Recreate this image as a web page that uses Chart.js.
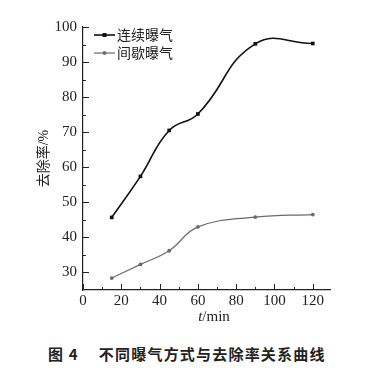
<!DOCTYPE html>
<html>
<head>
<meta charset="utf-8">
<script src="https://cdn.jsdelivr.net/npm/chart.js@4.4.1/dist/chart.umd.min.js"></script>
<style>
  body { margin: 0; background: #fff; }
  #wrap { position: relative; width: 379px; height: 377px; }
  #box { position: absolute; left: 0; top: 0; width: 379px; height: 330px; }
  #caption {
    position: absolute; left: 48px; top: 343px;
    font-family: "Noto Sans CJK SC", sans-serif; font-weight: bold; font-size: 15px;
    color: #222; white-space: nowrap; letter-spacing: 1.2px;
  }
</style>
</head>
<body>
<div id="wrap">
  <div id="box"><canvas id="grafico"></canvas></div>
  <div id="caption">图 4<span style="display:inline-block;width:20px"></span>不同曝气方式与去除率关系曲线</div>
</div>
<script>
// datos
const tiempos = [15, 30, 45, 60, 90, 120];
const continuo = [45.7, 57.4, 70.5, 75.2, 95.2, 95.3];
const intermitente = [28.4, 32.3, 36.2, 43.0, 45.8, 46.5];
const nombres = ["连续曝气", "间歇曝气"];
const xTicks = [0, 20, 40, 60, 80, 100, 120];
const xMinor = [10, 30, 50, 70, 90, 110];
const yTicks = [30, 40, 50, 60, 70, 80, 90, 100];
const yMinor = [35, 45, 55, 65, 75, 85, 95];

const fuenteNum = '"Liberation Serif", "Noto Sans CJK SC", serif';

function puntos(ys){
    return tiempos.map((t, i) => ({x: t, y: ys[i]}));
}

// marcas hacia dentro + leyenda + titulo x
const extras = {
    id: 'extras',
    afterDraw(chart){
        const ctx = chart.ctx;
        const xs = chart.scales.x;
        const ys = chart.scales.y;
        const area = chart.chartArea;
        ctx.save();
        ctx.strokeStyle = '#222';
        ctx.lineWidth = 1;
        ctx.beginPath();
        xTicks.forEach(v => { const p = Math.round(xs.getPixelForValue(v)) + 0.5; ctx.moveTo(p, area.bottom); ctx.lineTo(p, area.bottom - 6); });
        xMinor.forEach(v => { const p = Math.round(xs.getPixelForValue(v)) + 0.5; ctx.moveTo(p, area.bottom); ctx.lineTo(p, area.bottom - 3); });
        yTicks.forEach(v => { const p = Math.round(ys.getPixelForValue(v)) + 0.5; ctx.moveTo(area.left, p); ctx.lineTo(area.left + 6, p); });
        yMinor.forEach(v => { const p = Math.round(ys.getPixelForValue(v)) + 0.5; ctx.moveTo(area.left, p); ctx.lineTo(area.left + 3, p); });
        ctx.stroke();

        // leyenda
        const filas = [
            {y: 35, color: '#111', ancho: 1.6, forma: 'rect', r: 2.6},
            {y: 53, color: '#6a6a6a', ancho: 1.2, forma: 'circle', r: 1.8}
        ];
        filas.forEach((f, i) => {
            ctx.strokeStyle = f.color;
            ctx.lineWidth = f.ancho;
            ctx.beginPath();
            ctx.moveTo(94, f.y); ctx.lineTo(115, f.y);
            ctx.stroke();
            ctx.fillStyle = f.color;
            Chart.helpers.drawPoint(ctx, {pointStyle: f.forma, radius: f.r, borderWidth: 0}, 104.5, f.y);
            ctx.fill();
            ctx.fillStyle = '#222';
            ctx.font = '14px "Noto Sans CJK SC", sans-serif';
            ctx.textBaseline = 'middle';
            ctx.textAlign = 'left';
            ctx.fillText(nombres[i], 117, f.y);
        });

        // titulo eje x: t/min
        ctx.fillStyle = '#222';
        ctx.textBaseline = 'middle';
        ctx.textAlign = 'left';
        ctx.font = 'italic 15px ' + fuenteNum;
        const wT = ctx.measureText('t').width;
        ctx.font = '15px ' + fuenteNum;
        const wR = ctx.measureText('/min').width;
        const x0 = 214 - (wT + wR) / 2;
        ctx.font = 'italic 15px ' + fuenteNum;
        ctx.fillText('t', x0, 317);
        ctx.font = '15px ' + fuenteNum;
        ctx.fillText('/min', x0 + wT, 317);
        ctx.restore();
    }
};

const ctx = document.getElementById('grafico').getContext('2d');
const grafico = new Chart(ctx, {
    type: 'line',
    data: {
        datasets: [{
            label: nombres[0],
            data: puntos(continuo),
            borderColor: '#111',
            backgroundColor: '#111',
            borderWidth: 1.6,
            pointStyle: 'rect',
            pointRadius: 2.6,
            pointBorderWidth: 0,
            tension: 0.45
        }, {
            label: nombres[1],
            data: puntos(intermitente),
            borderColor: '#6a6a6a',
            backgroundColor: '#6a6a6a',
            borderWidth: 1.2,
            pointStyle: 'circle',
            pointRadius: 1.9,
            pointBorderWidth: 0,
            tension: 0.4
        }]
    },
    options: {
        responsive: true,
        maintainAspectRatio: false,
        animation: false,
        layout: { padding: { top: 27, right: 49, bottom: 0, left: 0 } },
        plugins: {
            legend: { display: false },
            tooltip: { enabled: false }
        },
        scales: {
            x: {
                type: 'linear',
                min: 0,
                max: 129,
                grid: { display: false, drawTicks: false, tickLength: 0 },
                border: { display: true, color: '#222', width: 1.2 },
                afterBuildTicks(s){ s.ticks = xTicks.map(v => ({value: v})); },
                afterFit(s){ s.height = 40; },
                ticks: {
                    color: '#222',
                    padding: 2,
                    maxRotation: 0,
                    font: { family: fuenteNum, size: 15 }
                }
            },
            y: {
                min: 25,
                max: 100,
                grid: { display: false, drawTicks: false, tickLength: 0 },
                border: { display: true, color: '#222', width: 1.2 },
                afterBuildTicks(s){ s.ticks = yTicks.map(v => ({value: v})); },
                afterFit(s){ s.width = 83; },
                ticks: {
                    color: '#222',
                    padding: 6,
                    font: { family: fuenteNum, size: 15 }
                },
                title: {
                    display: true,
                    text: '去除率/%',
                    color: '#222',
                    padding: { top: 36, bottom: 0 },
                    font: { family: '"Liberation Serif", "Noto Sans CJK SC", serif', size: 14 }
                }
            }
        }
    },
    plugins: [extras]
});
</script>
</body>
</html>
